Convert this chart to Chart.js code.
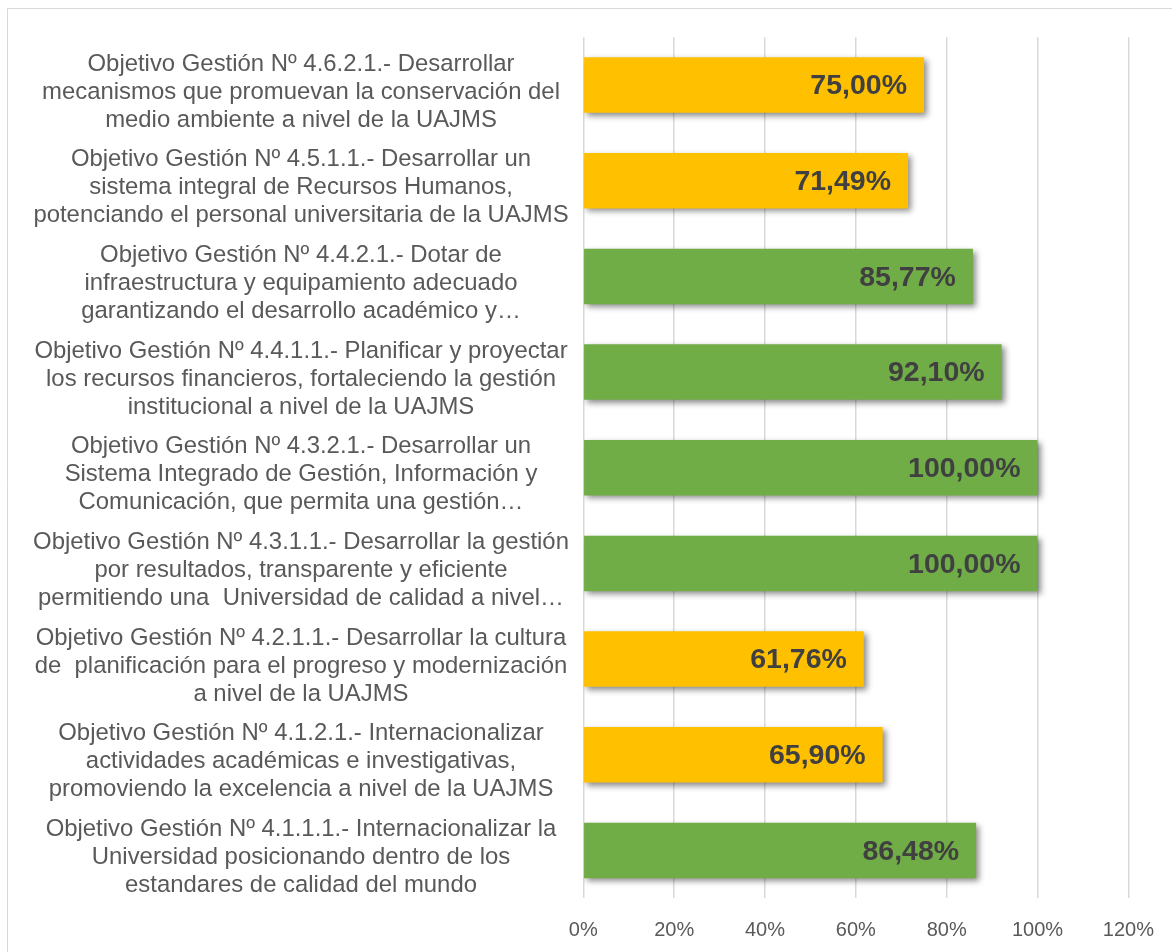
<!DOCTYPE html>
<html>
<head>
<meta charset="utf-8">
<script src="https://cdn.jsdelivr.net/npm/chart.js@4.4.1/dist/chart.umd.min.js"></script>
<style>
html,body{margin:0;padding:0;background:#fff;overflow:hidden}
#wrap{position:relative;width:1172px;height:952px}
</style>
</head>
<body>
<div id="wrap"><canvas id="c" width="1172" height="952"></canvas></div>
<script>
// ---- data ----
const categories = [
  ["Objetivo Gestión Nº 4.6.2.1.- Desarrollar", "mecanismos que promuevan la conservación del", "medio ambiente a nivel de la UAJMS"],
  ["Objetivo Gestión Nº 4.5.1.1.- Desarrollar un", "sistema integral de Recursos Humanos,", "potenciando el personal universitaria de la UAJMS"],
  ["Objetivo Gestión Nº 4.4.2.1.- Dotar de", "infraestructura y equipamiento adecuado", "garantizando el desarrollo académico y…"],
  ["Objetivo Gestión Nº 4.4.1.1.- Planificar y proyectar", "los recursos financieros, fortaleciendo la gestión", "institucional a nivel de la UAJMS"],
  ["Objetivo Gestión Nº 4.3.2.1.- Desarrollar un", "Sistema Integrado de Gestión, Información y", "Comunicación, que permita una gestión…"],
  ["Objetivo Gestión Nº 4.3.1.1.- Desarrollar la gestión", "por resultados, transparente y eficiente", "permitiendo una  Universidad de calidad a nivel…"],
  ["Objetivo Gestión Nº 4.2.1.1.- Desarrollar la cultura", "de  planificación para el progreso y modernización", "a nivel de la UAJMS"],
  ["Objetivo Gestión Nº 4.1.2.1.- Internacionalizar", "actividades académicas e investigativas,", "promoviendo la excelencia a nivel de la UAJMS"],
  ["Objetivo Gestión Nº 4.1.1.1.- Internacionalizar la", "Universidad posicionando dentro de los", "estandares de calidad del mundo"]
];
const values = [75.00, 71.49, 85.77, 92.10, 100.00, 100.00, 61.76, 65.90, 86.48];
const xTickValues = [0, 20, 40, 60, 80, 100, 120];

// ---- styles ----
const YELLOW = '#FFC000', GREEN = '#70AD47';
const barColors = [YELLOW, YELLOW, GREEN, GREEN, GREEN, GREEN, YELLOW, YELLOW, GREEN];
const FAMILY = "'Liberation Sans', Arial, sans-serif";
const Y_FONT_SIZE = 23.9;
const AXIS_RIGHT = 583.3;
const LABEL_CENTER = 301;

// measure widest label line to center labels around LABEL_CENTER
const mctx = document.createElement('canvas').getContext('2d');
mctx.font = Y_FONT_SIZE + 'px ' + FAMILY;
let widest = 0;
categories.forEach(c => c.forEach(l => { widest = Math.max(widest, mctx.measureText(l).width); }));
const yPad = AXIS_RIGHT - LABEL_CENTER - widest / 2;

const fmt = v => v.toFixed(2).replace('.', ',') + '%';

const framePlugin = {
  id: 'frame',
  beforeDraw(chart) {
    const ctx = chart.ctx;
    ctx.save();
    ctx.fillStyle = '#fff';
    ctx.fillRect(0, 0, chart.width, chart.height);
    ctx.strokeStyle = '#d9d9d9';
    ctx.lineWidth = 1;
    ctx.beginPath();
    ctx.moveTo(7.5, chart.height);
    ctx.lineTo(7.5, 8.5);
    ctx.lineTo(chart.width, 8.5);
    ctx.stroke();
    ctx.restore();
  }
};

const shadowLabelPlugin = {
  id: 'shadowLabels',
  beforeDatasetsDraw(chart) {
    const ctx = chart.ctx;
    ctx.save();
    ctx.shadowColor = 'rgba(0,0,0,0.45)';
    ctx.shadowBlur = 6;
    ctx.shadowOffsetX = 3;
    ctx.shadowOffsetY = 3;
  },
  afterDatasetsDraw(chart) {
    const ctx = chart.ctx;
    ctx.restore();
    ctx.save();
    ctx.font = 'bold 28.5px ' + FAMILY;
    ctx.fillStyle = '#404040';
    ctx.textAlign = 'right';
    ctx.textBaseline = 'middle';
    const meta = chart.getDatasetMeta(0);
    meta.data.forEach((bar, i) => {
      ctx.fillText(fmt(chart.data.datasets[0].data[i]), bar.x - 17, bar.y + 1.5);
    });
    ctx.restore();
  }
};

new Chart(document.getElementById('c'), {
  type: 'bar',
  data: {
    labels: categories,
    datasets: [{
      data: values,
      backgroundColor: barColors,
      borderWidth: 0,
      categoryPercentage: 0.58,
      barPercentage: 1
    }]
  },
  options: {
    indexAxis: 'y',
    responsive: false,
    animation: false,
    devicePixelRatio: 1,
    layout: { padding: { top: 37.2, right: 43.6, bottom: 9.7, left: 0 } },
    plugins: { legend: { display: false }, tooltip: { enabled: false } },
    scales: {
      x: {
        min: 0, max: 120,
        afterBuildTicks: s => { s.ticks = xTickValues.map(v => ({ value: v })); },
        afterFit: s => { s.paddingLeft = 0; s.paddingRight = 0; s.height = 44; },
        grid: { color: '#d9d9d9', lineWidth: 1.5, drawTicks: false },
        border: { display: false },
        ticks: {
          padding: 20,
          color: '#595959',
          font: { family: FAMILY, size: 20 },
          callback: v => v + '%',
          maxRotation: 0
        }
      },
      y: {
        afterFit: s => { s.width = AXIS_RIGHT; s.paddingTop = 0; s.paddingBottom = 0; },
        grid: { display: false, drawTicks: false },
        border: { display: false },
        ticks: {
          crossAlign: 'center',
          padding: yPad,
          labelOffset: 7,
          color: '#595959',
          autoSkip: false,
          font: { family: FAMILY, size: Y_FONT_SIZE, lineHeight: 1.17 }
        }
      }
    }
  },
  plugins: [framePlugin, shadowLabelPlugin]
});
</script>
</body>
</html>
